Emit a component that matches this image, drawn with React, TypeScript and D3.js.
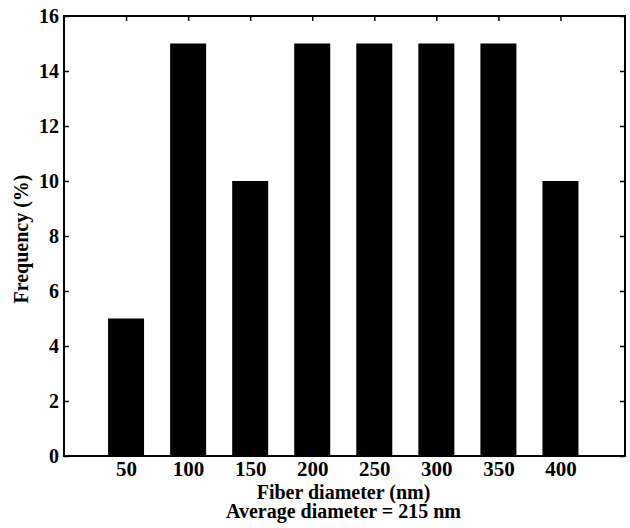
import React, { useEffect, useRef } from 'react';
import * as d3 from 'd3';

const diameters = [50, 100, 150, 200, 250, 300, 350, 400];
const frequency = [5, 15, 10, 15, 15, 15, 15, 10];
const yTicks = [0, 2, 4, 6, 8, 10, 12, 14, 16];

const App = () => {
  const ref = useRef<SVGSVGElement>(null);

  useEffect(() => {
    const margin = { top: 16, right: 5, bottom: 72, left: 64 };
    const width = 630 - margin.left - margin.right;
    const height = 528 - margin.top - margin.bottom;
    const font = "'Liberation Serif', 'Times New Roman', serif";

    const root = d3.select(ref.current);
    root.selectAll('*').remove();

    const g = root.append('g').attr('transform', `translate(${margin.left}, ${margin.top})`);

    const x = d3.scaleLinear().domain([0, 452]).range([0, width]);
    const y = d3.scaleLinear().domain([0, 16]).range([height, 0]);
    const barW = x(29) - x(0);

    // barras
    g.append('g')
      .selectAll('rect')
      .data(diameters)
      .join('rect')
      .attr('x', (d) => x(d) - barW / 2)
      .attr('y', (d, i) => y(frequency[i]))
      .attr('width', barW)
      .attr('height', (d, i) => y(0) - y(frequency[i]))
      .attr('fill', '#000');

    // ejes con marcas hacia dentro
    const tick = 5;
    g.append('g').call(d3.axisLeft(y).tickValues(yTicks).tickSize(-tick).tickPadding(5).tickSizeOuter(0))
      .call((a) => a.select('.domain').remove());
    g.append('g').attr('transform', `translate(${width},0)`)
      .call(d3.axisRight(y).tickValues(yTicks).tickSize(-tick).tickFormat(() => '').tickSizeOuter(0))
      .call((a) => a.select('.domain').remove());
    g.append('g').attr('class', 'xaxis').attr('transform', `translate(0,${height})`)
      .call(d3.axisBottom(x).tickValues(diameters).tickSize(-tick).tickSizeOuter(0))
      .call((a) => a.select('.domain').remove());
    g.append('g')
      .call(d3.axisTop(x).tickValues(diameters).tickSize(-tick).tickFormat(() => '').tickSizeOuter(0))
      .call((a) => a.select('.domain').remove());

    g.selectAll('.tick line').attr('stroke', '#000').attr('stroke-width', 1.5);
    g.selectAll('.tick text')
      .attr('fill', '#000')
      .style('font-family', font)
      .style('font-weight', 'bold')
      .style('font-size', '20px');
    g.selectAll('.xaxis .tick text').attr('y', 20).attr('dy', 0).style('font-size', '21px');

    g.append('rect')
      .attr('width', width)
      .attr('height', height)
      .attr('fill', 'none')
      .attr('stroke', '#000')
      .attr('stroke-width', 2);

    const label = (t: string, xx: number, yy: number, rot = 0) =>
      root.append('text')
        .attr('transform', `translate(${xx},${yy}) rotate(${rot})`)
        .attr('text-anchor', 'middle')
        .style('font-family', font)
        .style('font-weight', 'bold')
        .style('font-size', '20px')
        .text(t);

    label('Fiber diameter (nm)', margin.left + width / 2 - 1, 499);
    label('Average diameter = 215 nm', margin.left + width / 2 - 1, 518);
    label('Frequency (%)', 28, 239, -90);
  }, []);

  return <svg ref={ref} width={630} height={528} style={{ position: 'absolute', left: 0, top: 0 }} />;
};

export default App;
